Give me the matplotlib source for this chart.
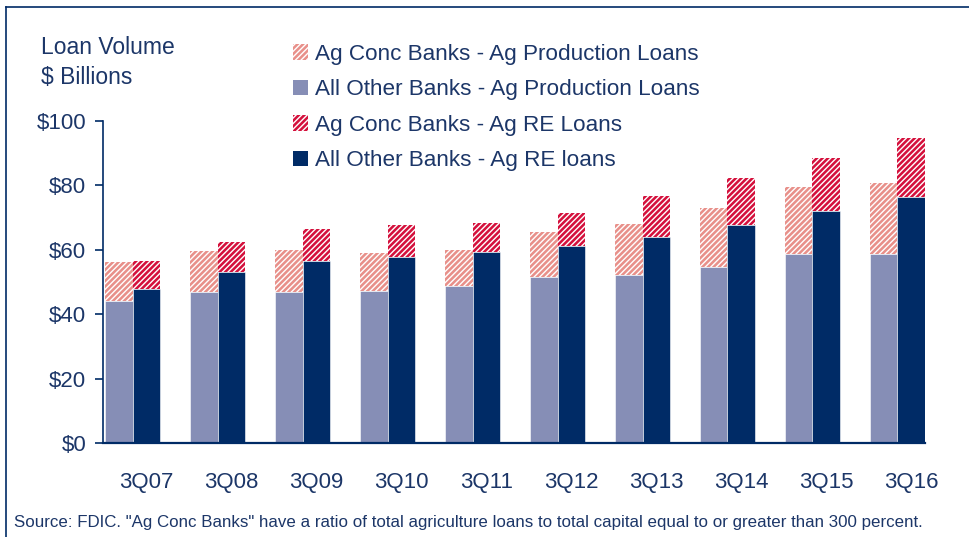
import numpy as np
import matplotlib
matplotlib.use("Agg")
import matplotlib.pyplot as plt
from matplotlib.patches import Patch
from matplotlib.lines import Line2D

# values, $ billions
quarters = ["3Q07", "3Q08", "3Q09", "3Q10", "3Q11", "3Q12", "3Q13", "3Q14", "3Q15", "3Q16"]
other_prod = [44.2, 47.0, 47.0, 47.2, 48.9, 51.7, 52.2, 54.8, 58.7, 58.7]
conc_prod = [11.9, 12.5, 12.9, 11.9, 10.9, 13.7, 15.8, 18.1, 20.7, 22.0]
other_re = [47.7, 53.1, 56.4, 57.8, 59.3, 61.1, 63.9, 67.8, 72.1, 76.4]
conc_re = [8.8, 9.2, 10.2, 9.8, 8.9, 10.4, 12.7, 14.5, 16.3, 18.4]

NAVY_TXT = "#1c3668"
PINK = "#e8908a"
PURPLE = "#868eb6"
RED = "#d4103c"
NAVY = "#002b66"
HATCH = "//////"

plt.rcParams["font.family"] = ["Liberation Sans", "DejaVu Sans"]
plt.rcParams["hatch.linewidth"] = 1.0

fig = plt.figure(figsize=(9.69, 5.37), dpi=100)
ax = fig.add_axes([103 / 969, 94 / 537, 822 / 969, 322 / 537])

x = np.arange(len(quarters))
w = 0.325
ax.bar(x - w / 2, other_prod, w, color=PURPLE, edgecolor="white", linewidth=0.4)
ax.bar(x - w / 2, conc_prod, w, bottom=other_prod, color=PINK, edgecolor="white",
       linewidth=0, hatch=HATCH)
ax.bar(x + w / 2, other_re, w, color=NAVY, edgecolor="white", linewidth=0.4)
ax.bar(x + w / 2, conc_re, w, bottom=other_re, color=RED, edgecolor="white",
       linewidth=0, hatch=HATCH)

ax.set_xlim(-0.35, 9.325)
ax.set_ylim(0, 100)
ax.set_yticks(range(0, 101, 20))
ax.set_yticklabels([f"${v}" for v in range(0, 101, 20)])
ax.set_xticks(x + w / 2)
ax.set_xticklabels(quarters)

for s in ["top", "right"]:
    ax.spines[s].set_visible(False)
ax.spines["left"].set_color(NAVY)
ax.spines["left"].set_linewidth(1.2)
ax.spines["bottom"].set_color(NAVY)
ax.spines["bottom"].set_linewidth(1.6)
ax.tick_params(axis="y", colors=NAVY_TXT, labelsize=16, length=6, width=1.2,
               direction="out", pad=6, color=NAVY)
ax.tick_params(axis="x", colors=NAVY_TXT, labelsize=16, length=0, pad=21)

fig.text(41 / 969, 1 - 54 / 537, "Loan Volume", fontsize=16.5, color=NAVY_TXT, va="baseline")
fig.text(41 / 969, 1 - 84 / 537, "$ Billions", fontsize=16.5, color=NAVY_TXT, va="baseline")

handles = [
    Patch(facecolor=PINK, edgecolor="white", linewidth=0, hatch=HATCH),
    Patch(facecolor=PURPLE, edgecolor="white", linewidth=0),
    Patch(facecolor=RED, edgecolor="white", linewidth=0, hatch=HATCH),
    Patch(facecolor=NAVY, edgecolor="white", linewidth=0),
]
labels = ["Ag Conc Banks - Ag Production Loans", "All Other Banks - Ag Production Loans",
          "Ag Conc Banks - Ag RE Loans", "All Other Banks - Ag RE loans"]
leg = fig.legend(handles, labels, loc="upper left", bbox_to_anchor=(293 / 969, 1 - 44 / 537),
                 frameon=False, fontsize=16.2, handlelength=0.68, handleheight=0.68,
                 handletextpad=0.3, labelspacing=0.64, borderpad=0, borderaxespad=0)
for t in leg.get_texts():
    t.set_color(NAVY_TXT)

fig.text(14 / 969, 1 - 522 / 537,
         'Source: FDIC. "Ag Conc Banks" have a ratio of total agriculture loans to total capital equal to or greater than 300 percent.',
         fontsize=12.2, color=NAVY_TXT, va="center")

# outer frame (top and left edges visible)
fig.add_artist(Line2D([6 / 969, 6 / 969], [0, 1 - 7 / 537], transform=fig.transFigure,
                      color=NAVY, linewidth=1.2))
fig.add_artist(Line2D([6 / 969, 1], [1 - 7 / 537, 1 - 7 / 537], transform=fig.transFigure,
                      color=NAVY, linewidth=1.2))

fig.savefig("out.png", dpi=100)
